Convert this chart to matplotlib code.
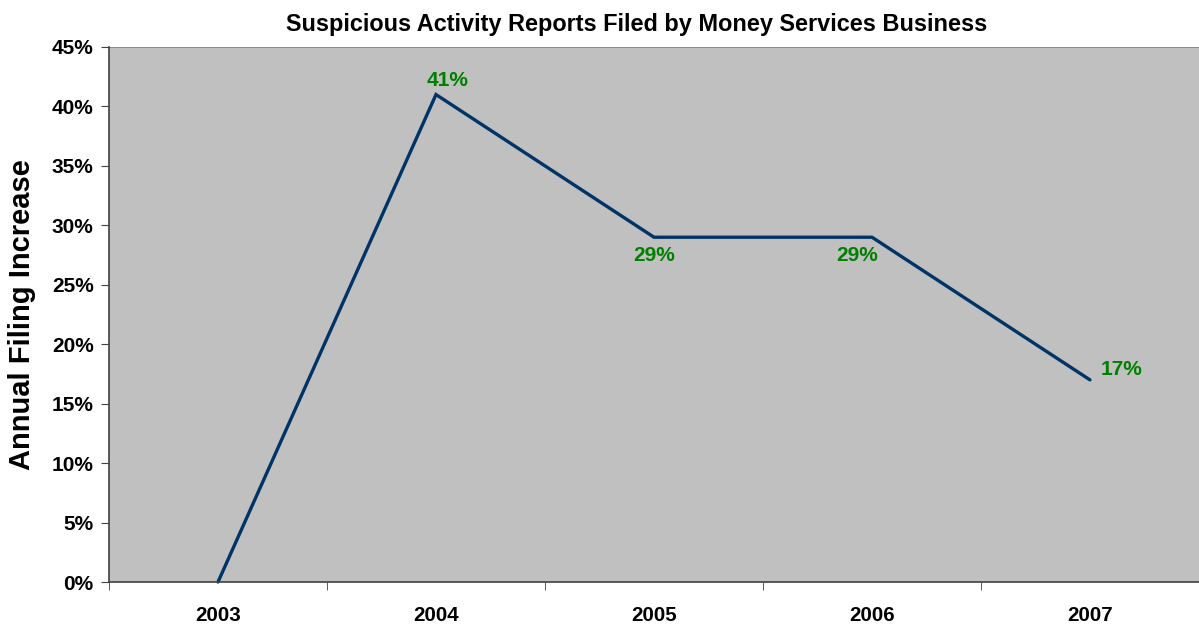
import matplotlib
matplotlib.use("Agg")
import matplotlib.pyplot as plt
from matplotlib.ticker import FixedLocator, NullFormatter

plt.rcParams['font.family'] = ['Liberation Sans', 'DejaVu Sans']

years = ["2003", "2004", "2005", "2006", "2007"]
values = [0, 41, 29, 29, 17]
labels = ["", "41%", "29%", "29%", "17%"]
yticks = [0, 5, 10, 15, 20, 25, 30, 35, 40, 45]

fig = plt.figure(figsize=(11.99, 6.25), dpi=100)
ax = fig.add_axes([109/1199, 43/625, 1 - 109/1199, (582-47)/625])
ax.set_facecolor('#C0C0C0')

x = list(range(len(years)))
ax.plot(x, values, color='#003366', linewidth=2.4, solid_capstyle='round', solid_joinstyle='miter', clip_on=False)

offsets = [(0, 0), (8.5, 10), (0, -13.5), (-11, -13.5), (22.5, 7.5)]
for xi, v, lab, (dx, dy) in zip(x, values, labels, offsets):
    if lab:
        ax.annotate(lab, (xi, v), xytext=(dx, dy), textcoords='offset points',
                    ha='center', va='center', color='#008000', fontsize=15, fontweight='bold')

ax.set_xlim(-0.5, 4.5)
ax.set_ylim(0, 45)
ax.set_yticks(yticks)
ax.set_yticklabels([f"{t}%" for t in yticks], fontsize=15, fontweight='bold')
ax.set_xticks(x)
ax.set_xticklabels(years, fontsize=14.8, fontweight='bold')
ax.tick_params(axis='x', which='major', length=0, pad=17)
ax.xaxis.set_minor_locator(FixedLocator([-0.5, 0.5, 1.5, 2.5, 3.5, 4.5]))
ax.xaxis.set_minor_formatter(NullFormatter())
ax.tick_params(axis='x', which='minor', length=6, color='#404040', direction='out')
ax.tick_params(axis='y', length=6, color='#404040', direction='out', pad=5)

for s in ['top', 'right']:
    ax.spines[s].set_visible(False)
ax.spines['left'].set_color('#404040')
ax.spines['bottom'].set_color('#404040')
ax.spines['left'].set_linewidth(1.2)
ax.spines['bottom'].set_linewidth(1.2)
ax.axhline(45, color='#808080', linewidth=1.2)

ax.set_ylabel("Annual Filing Increase", fontsize=21, fontweight='bold')
ax.yaxis.set_label_coords(-(109-36)/1090, 0.5)
fig.text(637/1199, 1 - 24/625, "Suspicious Activity Reports Filed by Money Services Business",
         ha='center', va='center', fontsize=16.9, fontweight='bold')

fig.savefig("out.png", dpi=100)
